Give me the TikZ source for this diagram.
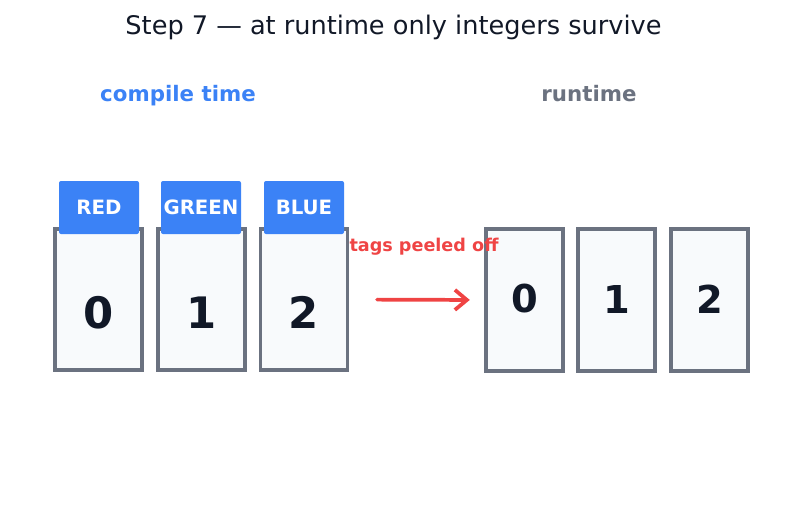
\documentclass[tikz,border=0pt]{standalone}
\usepackage{fontspec}
\setmainfont{DejaVu Sans}
\usetikzlibrary{arrows.meta}
\usepackage{xcolor}
\definecolor{TagBlue}{HTML}{3B82F6}
\definecolor{SlateGray}{HTML}{6B7280}
\definecolor{CardFill}{HTML}{F8FAFC}
\definecolor{Ink}{HTML}{111827}
\definecolor{PeelRed}{HTML}{EF4444}
\tikzset{
    % Box styles - sharp corners for cards, small rounding for tags
    card/.style={
        rectangle,
        draw=SlateGray,
        fill=CardFill,
        line width=2.3pt,
        minimum width=65.25pt,
        minimum height=105.75pt,
        inner sep=0pt
    },
    slot/.style={
        card,
        minimum width=57.75pt,
        minimum height=106.5pt
    },
    tag/.style={
        rectangle,
        rounded corners=1.5pt,
        fill=TagBlue,
        text=white,
        minimum width=60pt,
        minimum height=39.75pt,
        inner sep=0pt,
        font=\bfseries\fontsize{14.8}{17}\selectfont
    },
    digit/.style={
        font=\bfseries\fontsize{32.5}{36}\selectfont,
        text=Ink
    },
    smalldigit/.style={
        digit,
        font=\bfseries\fontsize{28.8}{32}\selectfont
    },
    heading/.style={
        anchor=base,
        font=\bfseries\fontsize{16}{19}\selectfont
    },
    % Arrow style
    peel/.style={
        -{Straight Barb[length=9pt,width=15pt]},
        line width=2.8pt,
        draw=PeelRed,
        line cap=round
    }
}
\begin{document}
\begin{tikzpicture}[x=0.75pt, y=-0.75pt]
    \useasboundingbox (0,0) rectangle (787,512);

    % Title
    \node[anchor=base, text=Ink, font=\fontsize{19.2}{23}\selectfont] (title) at (393.5,34) {Step 7 — at runtime only integers survive};

    % Column headings
    \node[heading, text=TagBlue] (ctime) at (178,101.5) {compile time};
    \node[heading, text=SlateGray] (rtime) at (589,101.5) {runtime};

    % Compile-time cards
    \node[card] (b1) at (98.5,299.5) {};
    \node[card] (b2) at (201.5,299.5) {};
    \node[card] (b3) at (304,299.5) {};
    \node[digit] (d1) at (98.5,312.5) {0};
    \node[digit] (d2) at (201.5,312.5) {1};
    \node[digit] (d3) at (304,312.5) {2};

    % Tags on top
    \node[tag] (t1) at (99,207.5) {RED};
    \node[tag] (t2) at (201,207.5) {GREEN};
    \node[tag] (t3) at (304,207.5) {BLUE};

    % Runtime slots
    \node[slot] (r1) at (524.5,300) {};
    \node[slot] (r2) at (616.5,300) {};
    \node[slot] (r3) at (709.5,300) {};
    \node[smalldigit] (e1) at (524.5,299) {0};
    \node[smalldigit] (e2) at (616.5,299) {1};
    \node[smalldigit] (e3) at (709.5,299) {2};

    % Peeling arrow
    \draw[peel, shorten <=21pt, shorten >=11pt] (b3.east) -- (r1.west);
    \node[anchor=base, text=PeelRed, font=\bfseries\fontsize{13.2}{15}\selectfont] (plabel) at (424,251) {tags peeled off};
\end{tikzpicture}
\end{document}
